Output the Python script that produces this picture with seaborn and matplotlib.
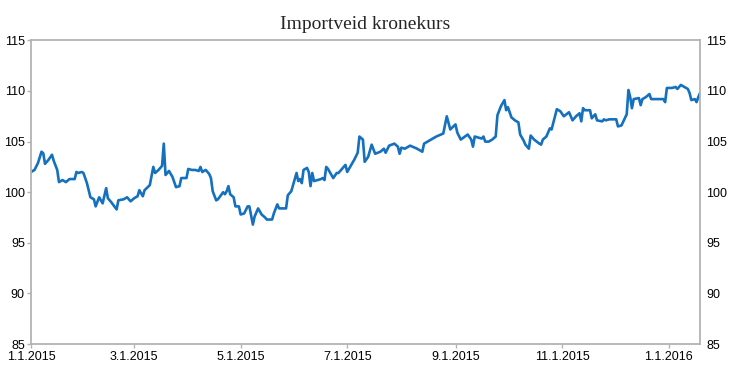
#!/usr/bin/env python3
"""Importveid kronekurs - daily index, 2015 to Jan 2016."""

import pandas as pd
import matplotlib
matplotlib.use('Agg')
import matplotlib.pyplot as plt
import seaborn as sns

# Data
dates = [
    '2015-01-01', '2015-01-03', '2015-01-05', '2015-01-07', '2015-01-08', '2015-01-09',
    '2015-01-11', '2015-01-13', '2015-01-14', '2015-01-16', '2015-01-17', '2015-01-19',
    '2015-01-21', '2015-01-23', '2015-01-26', '2015-01-27', '2015-01-28', '2015-01-30',
    '2015-01-31', '2015-02-02', '2015-02-04', '2015-02-06', '2015-02-07', '2015-02-09',
    '2015-02-11', '2015-02-13', '2015-02-14', '2015-02-16', '2015-02-19', '2015-02-20',
    '2015-02-23', '2015-02-25', '2015-02-26', '2015-02-27', '2015-03-01', '2015-03-03',
    '2015-03-04', '2015-03-06', '2015-03-07', '2015-03-10', '2015-03-12', '2015-03-13',
    '2015-03-15', '2015-03-17', '2015-03-18', '2015-03-19', '2015-03-21', '2015-03-23',
    '2015-03-25', '2015-03-27', '2015-03-28', '2015-03-31', '2015-04-01', '2015-04-03',
    '2015-04-05', '2015-04-07', '2015-04-08', '2015-04-09', '2015-04-11', '2015-04-13',
    '2015-04-14', '2015-04-15', '2015-04-17', '2015-04-18', '2015-04-21', '2015-04-22',
    '2015-04-23', '2015-04-24', '2015-04-25', '2015-04-27', '2015-04-28', '2015-04-30',
    '2015-05-01', '2015-05-03', '2015-05-05', '2015-05-06', '2015-05-08', '2015-05-09',
    '2015-05-11', '2015-05-13', '2015-05-15', '2015-05-16', '2015-05-19', '2015-05-20',
    '2015-05-22', '2015-05-23', '2015-05-27', '2015-05-28', '2015-05-30', '2015-06-02',
    '2015-06-03', '2015-06-04', '2015-06-05', '2015-06-06', '2015-06-08', '2015-06-09',
    '2015-06-10', '2015-06-11', '2015-06-12', '2015-06-16', '2015-06-17', '2015-06-18',
    '2015-06-19', '2015-06-20', '2015-06-23', '2015-06-25', '2015-06-26', '2015-06-28',
    '2015-06-30', '2015-07-01', '2015-07-05', '2015-07-07', '2015-07-08', '2015-07-10',
    '2015-07-11', '2015-07-13', '2015-07-15', '2015-07-17', '2015-07-20', '2015-07-22',
    '2015-07-23', '2015-07-25', '2015-07-28', '2015-07-30', '2015-07-31', '2015-08-01',
    '2015-08-03', '2015-08-06', '2015-08-10', '2015-08-13', '2015-08-14', '2015-08-18',
    '2015-08-21', '2015-08-25', '2015-08-27', '2015-08-29', '2015-09-01', '2015-09-02',
    '2015-09-04', '2015-09-08', '2015-09-10', '2015-09-11', '2015-09-12', '2015-09-16',
    '2015-09-17', '2015-09-18', '2015-09-20', '2015-09-22', '2015-09-24', '2015-09-25',
    '2015-09-27', '2015-09-29', '2015-09-30', '2015-10-01', '2015-10-03', '2015-10-05',
    '2015-10-07', '2015-10-08', '2015-10-10', '2015-10-11', '2015-10-13', '2015-10-14',
    '2015-10-16', '2015-10-19', '2015-10-20', '2015-10-21', '2015-10-23', '2015-10-25',
    '2015-10-26', '2015-10-29', '2015-10-31', '2015-11-02', '2015-11-05', '2015-11-07',
    '2015-11-09', '2015-11-11', '2015-11-12', '2015-11-13', '2015-11-14', '2015-11-17',
    '2015-11-18', '2015-11-20', '2015-11-21', '2015-11-24', '2015-11-25', '2015-11-26',
    '2015-11-28', '2015-12-02', '2015-12-03', '2015-12-05', '2015-12-08', '2015-12-09',
    '2015-12-10', '2015-12-11', '2015-12-12', '2015-12-15', '2015-12-16', '2015-12-17',
    '2015-12-19', '2015-12-21', '2015-12-22', '2015-12-29', '2015-12-30', '2015-12-31',
    '2016-01-03', '2016-01-05', '2016-01-06', '2016-01-08', '2016-01-10', '2016-01-12',
    '2016-01-13', '2016-01-14', '2016-01-16', '2016-01-17', '2016-01-18', '2016-01-19',
]

kurs = [
    102.0, 102.2, 102.9, 104.0, 103.85, 102.8,
    103.2, 103.7, 103.1, 102.2, 101.0, 101.2,
    101.0, 101.3, 101.3, 102.0, 101.9, 102.0,
    101.9, 100.9, 99.5, 99.3, 98.6, 99.5,
    98.9, 100.4, 99.4, 99.0, 98.3, 99.2,
    99.3, 99.5, 99.3, 99.1, 99.4, 99.6,
    100.2, 99.6, 100.2, 100.7, 102.5, 101.9,
    102.2, 102.6, 104.8, 101.7, 102.1, 101.5,
    100.5, 100.6, 101.4, 101.4, 102.3, 102.2,
    102.2, 102.1, 102.5, 102.0, 102.2, 101.8,
    101.4, 100.1, 99.2, 99.3, 100.0, 99.8,
    100.1, 100.6, 99.8, 99.5, 98.6, 98.6,
    97.8, 97.9, 98.6, 98.6, 96.8, 97.6,
    98.4, 97.8, 97.5, 97.3, 97.3, 97.9,
    98.8, 98.4, 98.4, 99.7, 100.1, 101.9,
    101.1, 101.3, 100.9, 102.2, 102.4, 102.0,
    100.6, 101.9, 101.1, 101.3, 101.4, 101.2,
    102.5, 102.3, 101.4, 101.9, 101.9, 102.3,
    102.7, 102.0, 103.2, 103.9, 105.5, 105.2,
    103.0, 103.5, 104.7, 103.8, 104.0, 104.3,
    103.9, 104.6, 104.8, 104.5, 103.8, 104.4,
    104.3, 104.6, 104.3, 104.0, 104.8, 105.2,
    105.5, 105.8, 107.5, 106.2, 106.7, 105.9,
    105.2, 105.7, 105.2, 104.5, 105.5, 105.3,
    105.5, 105.0, 105.0, 105.2, 105.5, 107.6,
    108.5, 109.1, 108.1, 108.4, 107.4, 107.1,
    106.9, 105.7, 105.1, 104.7, 104.3, 105.6,
    105.2, 104.8, 104.7, 105.2, 105.5, 106.3,
    106.2, 108.2, 108.0, 107.5, 107.9, 107.1,
    107.5, 107.8, 107.0, 108.3, 108.1, 108.1,
    107.3, 107.7, 107.1, 107.0, 107.2, 107.1,
    107.2, 107.2, 106.5, 106.6, 107.7, 110.1,
    109.4, 108.3, 109.2, 109.3, 108.6, 109.2,
    109.4, 109.7, 109.2, 109.2, 108.9, 110.3,
    110.3, 110.4, 110.2, 110.6, 110.4, 110.2,
    109.8, 109.1, 109.2, 108.9, 109.4, 109.8,
]

tick_dates = ['2015-01-01', '2015-03-01', '2015-05-01', '2015-07-01',
              '2015-09-01', '2015-11-01', '2016-01-01']
tick_labels = ['1.1.2015', '3.1.2015', '5.1.2015', '7.1.2015',
               '9.1.2015', '11.1.2015', '1.1.2016']
y_ticks = [85, 90, 95, 100, 105, 110, 115]

df = pd.DataFrame({'dato': pd.to_datetime(dates), 'kurs': kurs})

sns.set_style('white')
plt.rcParams['font.family'] = ['Liberation Sans Narrow', 'Liberation Sans', 'DejaVu Sans']

fig = plt.figure(figsize=(7.3, 3.81), dpi=100)
ax = fig.add_axes([0.0425, 0.097, 0.9165, 0.797])

sns.lineplot(data=df, x='dato', y='kurs', ax=ax, color='#1570BE', linewidth=1.9)

ax.set_xlim(df['dato'].iloc[0], df['dato'].iloc[-1])
ax.set_ylim(85, 115)
ax.set_yticks(y_ticks)
ax.set_xticks(pd.to_datetime(tick_dates))
ax.set_xticklabels(tick_labels)
ax.set_xlabel('')
ax.set_ylabel('')

for side in ['left', 'right', 'top', 'bottom']:
    ax.spines[side].set_visible(True)
    ax.spines[side].set_color('#B3B3B3')
    ax.spines[side].set_linewidth(1.3)

ax.tick_params(axis='x', which='both', bottom=True, length=3, width=1,
               color='#B3B3B3', pad=2, labelsize=9, labelcolor='black')
ax.tick_params(axis='y', which='both', left=True, right=False, labelright=True,
               length=3, width=1, color='#B3B3B3', pad=1.5, labelsize=9,
               labelcolor='black')
ax.grid(False)

ax.set_title('Importveid kronekurs', family=['Liberation Serif', 'DejaVu Serif'],
             fontsize=14, pad=8)

plt.savefig('out.png', dpi=100)
plt.close()
